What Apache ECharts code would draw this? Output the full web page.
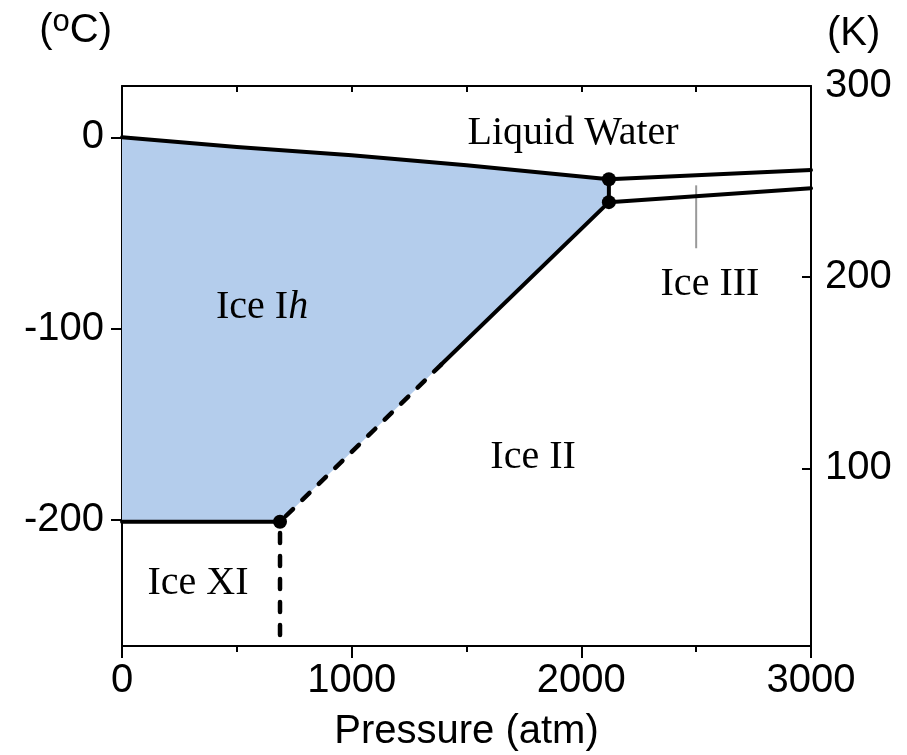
<!DOCTYPE html>
<html>
<head>
<meta charset="utf-8">
<title>Phase diagram of water</title>
<script src="https://cdn.jsdelivr.net/npm/echarts@6.0.0/dist/echarts.min.js"></script>
<style>
  html, body { margin: 0; padding: 0; background: #fff; }
  #chart { width: 907px; height: 755px; }
</style>
</head>
<body>
<div id="chart"></div>
<script>
// Phase boundaries: pressure in atm, temperature in °C
const meltIhP = [0, 500, 1000, 1500, 2120];
const meltIhT = [0, -5.0, -9.4, -14.6, -21.9];

const liquidIIIP = [2120, 3000];
const liquidIIIT = [-21.9, -17.1];

const IhIIIP = [2120, 2120];
const IhIIIT = [-21.9, -33.9];

const IIIIIP = [2120, 3000];
const IIIIIT = [-33.9, -26.6];

const IhIISolidP = [2120, 1390];
const IhIISolidT = [-33.9, -118.8];

const IhIIDashP = [1390, 688];
const IhIIDashT = [-118.8, -201];

const IhXIP = [688, 0];
const IhXIT = [-201, -201];

const XIIIP = [688, 688];
const XIIIT = [-201, -261];

// Triple points
const tripleP = [2120, 2120, 688];
const tripleT = [-21.9, -33.9, -201];

// Ice III pointer
const pointerP = [2500, 2500];
const pointerT = [-25.1, -58.0];

// Region names and their anchor positions
const regionNames = ['Liquid Water', 'Ice I{it|h}', 'Ice II', 'Ice III', 'Ice XI'];
const regionP = [1964, 610, 1790, 2560, 331];
const regionT = [2.1, -88.8, -167.6, -76.8, -233.4];

// Axis ranges and tick labels
const pressureMin = 0, pressureMax = 3000;
const celsiusMin = -266, celsiusMax = 26.85;
const kelvinMin = celsiusMin + 273.15, kelvinMax = celsiusMax + 273.15;
const celsiusTicks = [-200, -100, 0];
const kelvinTicks = [100, 200, 300];

const zip = (xs, ys) => xs.map((x, i) => [x, ys[i]]);

// Outline of the Ice Ih field
const IhOutline = [].concat(
  zip(meltIhP, meltIhT),
  zip(IhIIIP, IhIIIT).slice(1),
  zip(IhIISolidP, IhIISolidT).slice(1),
  zip(IhIIDashP, IhIIDashT).slice(1),
  zip(IhXIP, IhXIT).slice(1)
);

const SANS = '"Liberation Sans", Arial, sans-serif';
const SERIF = '"Liberation Serif", "Times New Roman", serif';
const BLACK = '#000';
const plain = v => String(v);

function boundary(xs, ys, dashed, dashOffset) {
  return {
    type: 'line',
    xAxisIndex: 0, yAxisIndex: 0,
    data: zip(xs, ys),
    showSymbol: false,
    symbol: 'none',
    silent: true,
    z: 4,
    lineStyle: dashed
      ? { color: BLACK, width: 4.5, type: [10, 13], dashOffset: dashOffset || 0, cap: 'round' }
      : { color: BLACK, width: 4, cap: 'round', join: 'round' }
  };
}

const chart = echarts.init(document.getElementById('chart'), null, { renderer: 'canvas' });

chart.setOption({
  animation: false,
  backgroundColor: '#fff',
  grid: { left: 122, right: 96, top: 86, bottom: 109, containLabel: false, outerBoundsMode: 'none' },
  xAxis: [
    {
      type: 'value',
      position: 'bottom',
      min: pressureMin, max: pressureMax, interval: 1000,
      name: 'Pressure (atm)',
      nameLocation: 'middle',
      nameGap: 66,
      nameTextStyle: { fontFamily: SANS, fontSize: 40, color: BLACK },
      axisLine: { show: true, onZero: false, lineStyle: { color: BLACK, width: 2 } },
      axisTick: { show: true, inside: false, length: 12, lineStyle: { color: BLACK, width: 2 } },
      minorTick: { show: true, splitNumber: 2, length: 6, lineStyle: { color: BLACK, width: 2 } },
      axisLabel: { fontFamily: SANS, fontSize: 40, color: BLACK, margin: 15, formatter: plain },
      splitLine: { show: false },
      minorSplitLine: { show: false }
    },
    {
      type: 'value',
      position: 'top',
      min: pressureMin, max: pressureMax, interval: 500,
      axisLine: { show: true, onZero: false, lineStyle: { color: BLACK, width: 2 } },
      axisTick: { show: true, inside: true, length: 6, lineStyle: { color: BLACK, width: 2 } },
      axisLabel: { show: false },
      splitLine: { show: false }
    }
  ],
  yAxis: [
    {
      type: 'value',
      position: 'left',
      min: celsiusMin, max: celsiusMax,
      name: '({sup|o}C)',
      nameLocation: 'end',
      nameGap: 32,
      nameTextStyle: {
        fontFamily: SANS, fontSize: 40, color: BLACK, align: 'right', padding: [0, 10, 0, 0],
        rich: { sup: { fontFamily: SANS, fontSize: 31, color: BLACK, verticalAlign: 'top', padding: [0, 0, 16, 0] } }
      },
      axisLine: { show: true, onZero: false, lineStyle: { color: BLACK, width: 2 } },
      axisTick: { show: true, inside: false, length: 11, customValues: celsiusTicks, lineStyle: { color: BLACK, width: 2 } },
      axisLabel: { fontFamily: SANS, fontSize: 40, color: BLACK, margin: 18, customValues: celsiusTicks, formatter: plain },
      splitLine: { show: false }
    },
    {
      type: 'value',
      position: 'right',
      min: kelvinMin, max: kelvinMax,
      alignTicks: false,
      name: '(K)',
      nameLocation: 'end',
      nameGap: 32,
      nameTextStyle: { fontFamily: SANS, fontSize: 40, color: BLACK, align: 'left', padding: [0, 0, 0, 16] },
      axisLine: { show: true, onZero: false, lineStyle: { color: BLACK, width: 2 } },
      axisTick: { show: true, inside: true, length: 9, customValues: kelvinTicks, lineStyle: { color: BLACK, width: 2 } },
      axisLabel: { fontFamily: SANS, fontSize: 40, color: BLACK, margin: 14, customValues: kelvinTicks, formatter: plain },
      splitLine: { show: false }
    }
  ],
  series: [
    // Ice Ih stability field
    {
      type: 'custom',
      xAxisIndex: 0, yAxisIndex: 0,
      silent: true,
      z: 1,
      data: [0],
      renderItem: function (params, api) {
        return {
          type: 'polygon',
          shape: { points: IhOutline.map(p => api.coord(p)) },
          style: { fill: '#b4cdec', stroke: null }
        };
      }
    },
    boundary(meltIhP, meltIhT, false),
    boundary(liquidIIIP, liquidIIIT, false),
    boundary(IhIIIP, IhIIIT, false),
    boundary(IIIIIP, IIIIIT, false),
    boundary(IhIISolidP, IhIISolidT, false),
    boundary(IhIIDashP, IhIIDashT, true),
    boundary(IhXIP, IhXIT, false),
    boundary(XIIIP, XIIIT, true, 11.75),
    // Ice III pointer
    {
      type: 'line',
      xAxisIndex: 0, yAxisIndex: 0,
      data: zip(pointerP, pointerT),
      showSymbol: false,
      symbol: 'none',
      silent: true,
      z: 3,
      lineStyle: { color: '#999', width: 2 }
    },
    // Triple points
    {
      type: 'scatter',
      xAxisIndex: 0, yAxisIndex: 0,
      data: zip(tripleP, tripleT),
      symbol: 'circle',
      symbolSize: 14,
      silent: true,
      z: 6,
      itemStyle: { color: BLACK, opacity: 1 }
    },
    // Phase names
    {
      type: 'scatter',
      xAxisIndex: 0, yAxisIndex: 0,
      data: regionNames.map((n, i) => ({ value: [regionP[i], regionT[i]], name: n })),
      symbolSize: 0,
      silent: true,
      z: 7,
      itemStyle: { opacity: 1 },
      label: {
        show: true,
        position: 'inside',
        align: 'center',
        verticalAlign: 'middle',
        formatter: p => p.name,
        fontFamily: SERIF,
        fontSize: 40,
        color: BLACK,
        opacity: 1,
        rich: { it: { fontFamily: SERIF, fontSize: 40, fontStyle: 'italic', color: BLACK } }
      }
    }
  ]
});
</script>
</body>
</html>
